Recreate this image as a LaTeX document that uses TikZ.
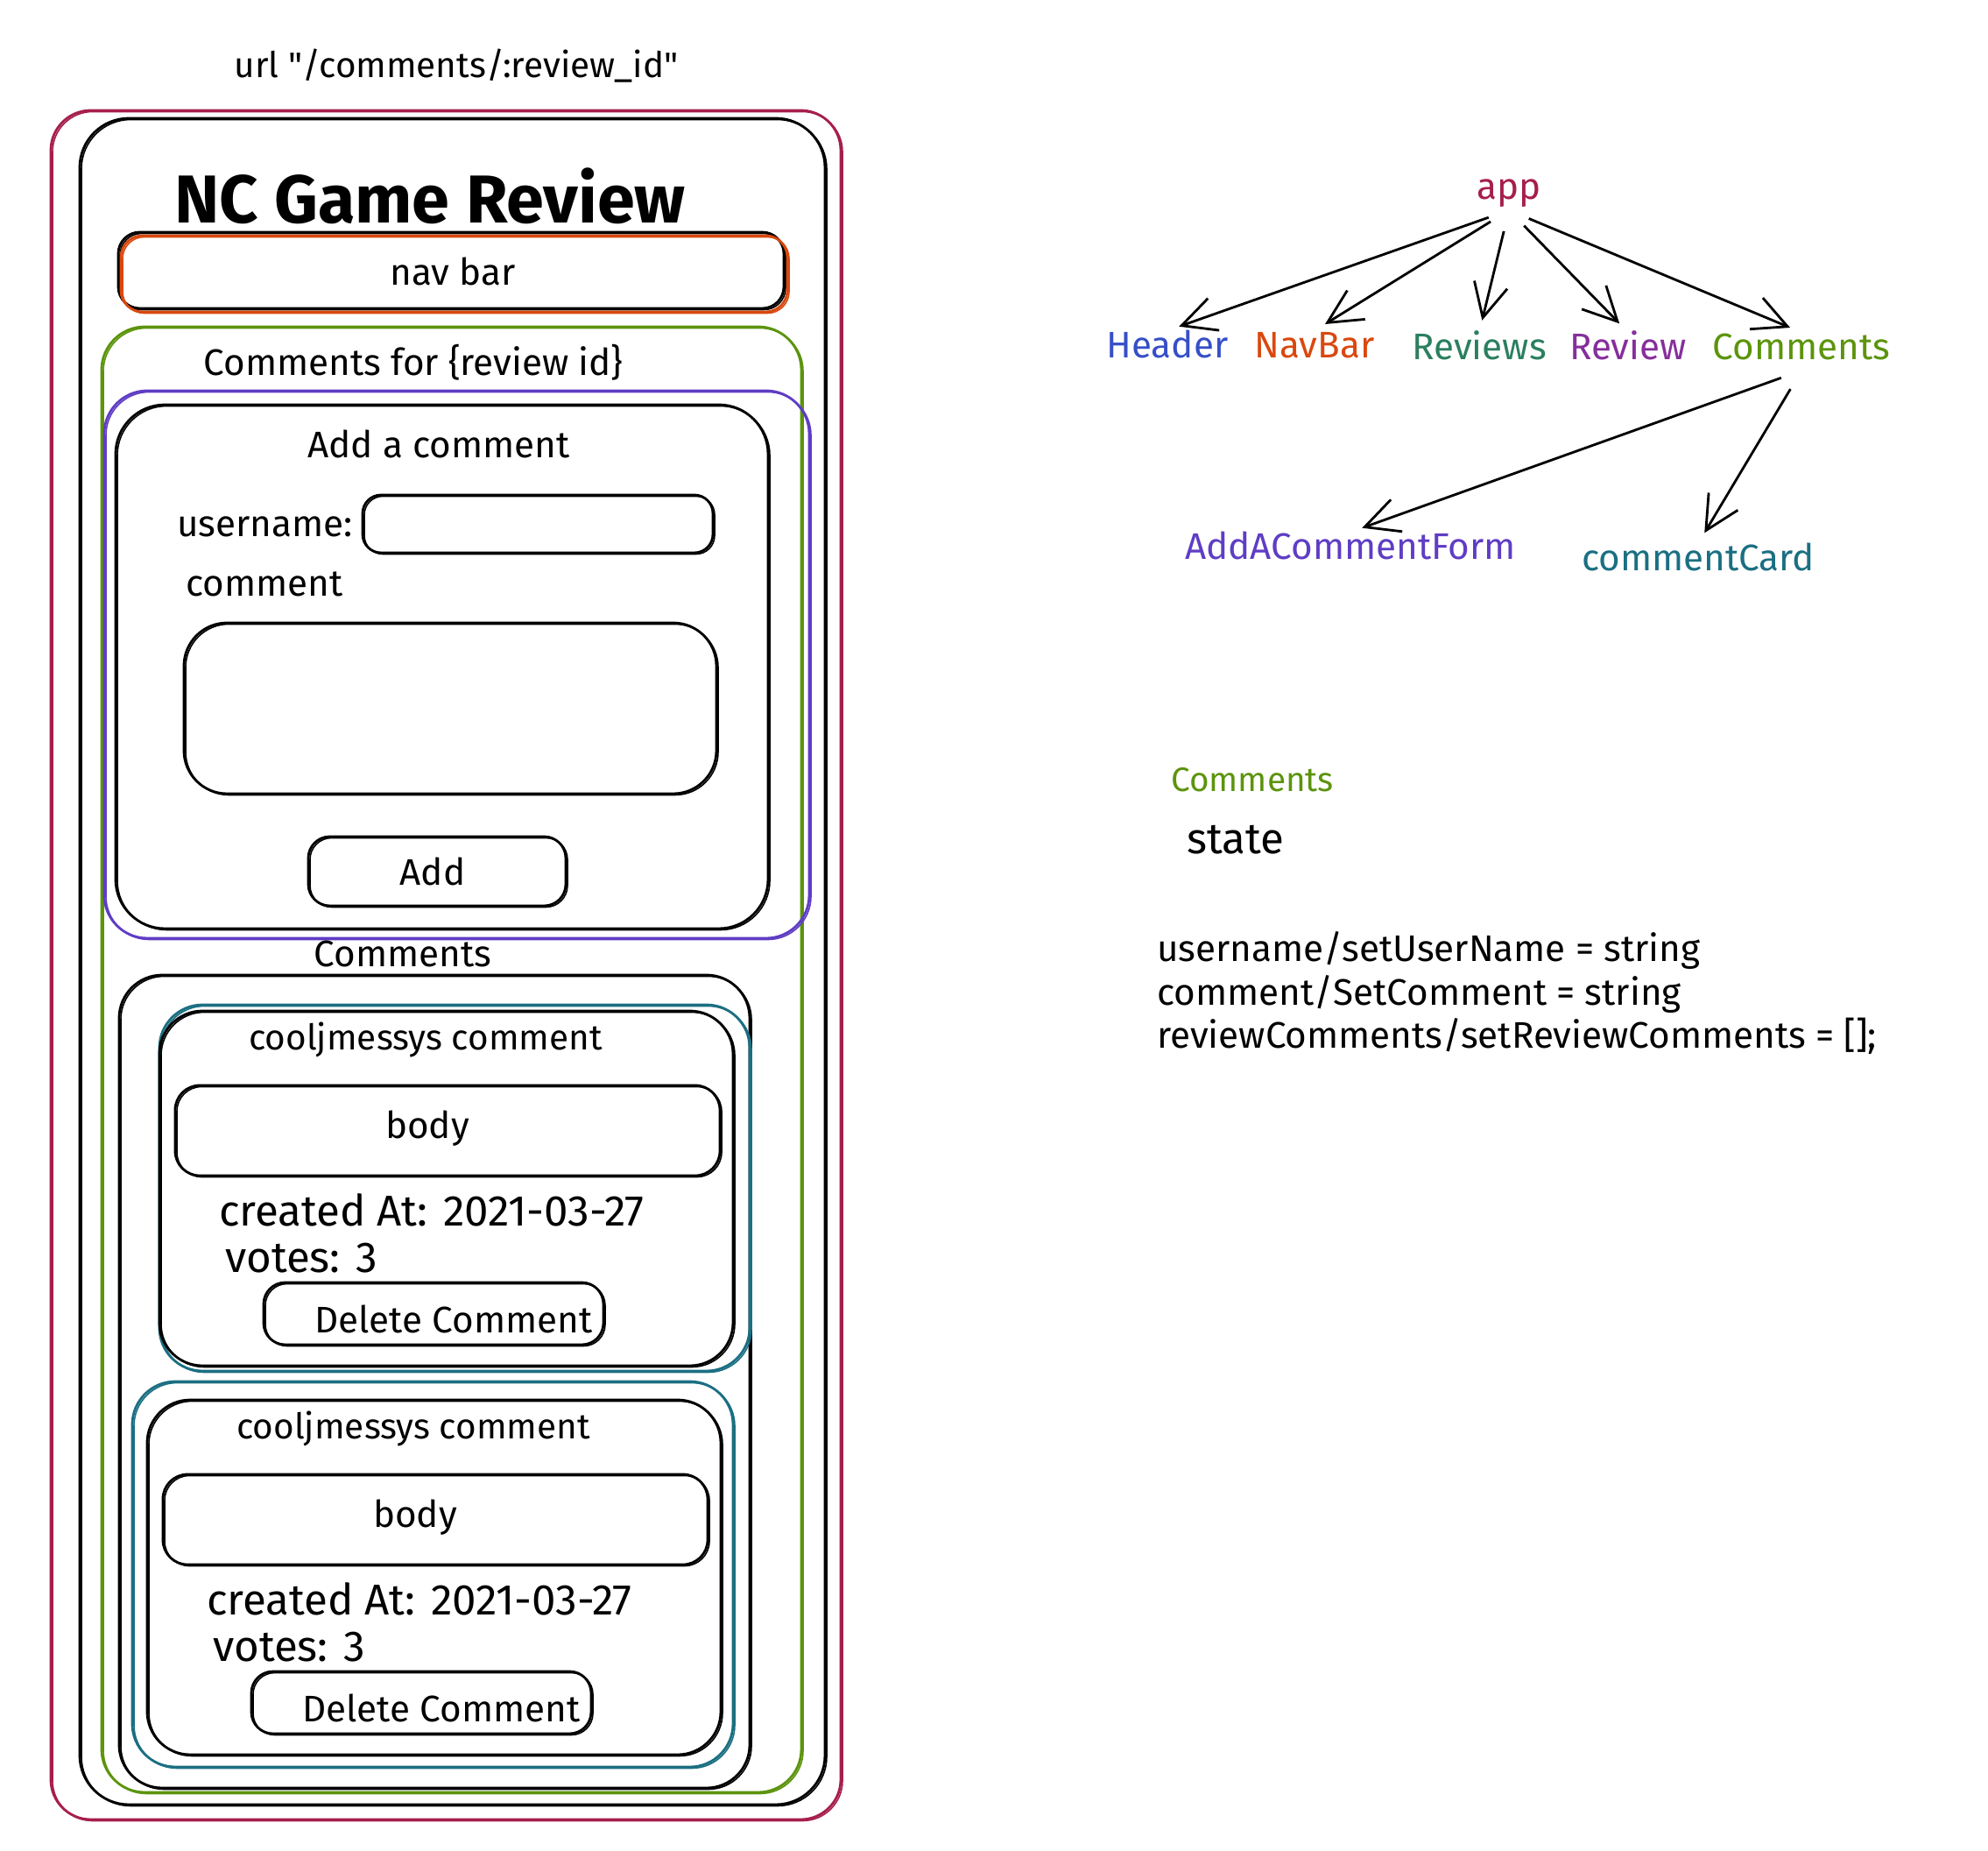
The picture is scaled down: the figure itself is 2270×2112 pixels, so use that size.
\documentclass[tikz,border=0pt]{standalone}
\usepackage{fontspec}
\setmainfont{Fira Sans}
\usetikzlibrary{arrows.meta,positioning}
\definecolor{crimson}{HTML}{A61E4D}
\definecolor{hdrblue}{HTML}{364FC7}
\definecolor{navorange}{HTML}{D9480F}
\definecolor{revsgreen}{HTML}{2B7F5E}
\definecolor{revpurple}{HTML}{862E9C}
\definecolor{comgreen}{HTML}{5C940D}
\definecolor{formviolet}{HTML}{5F3DC4}
\definecolor{cardteal}{HTML}{1B6F82}

\begin{document}
\begin{tikzpicture}[x=0.01cm, y=-0.01cm, line join=round,
  sketchbox/.style={draw=#1, line width=0.8pt, preaction={draw=#1, line width=0.45pt, transform canvas={shift={(2,1.5)}}}},
  sketchbox/.default=black,
  lbl/.style={font=\fontsize{12}{14}\selectfont, inner sep=1pt},
  biglbl/.style={font=\fontsize{14}{16}\selectfont, inner sep=1pt},
  arr/.style={-{Straight Barb[length=11pt,width=11pt]}, line width=0.8pt, shorten <=7pt, shorten >=4pt}]
\useasboundingbox (0,0) rectangle (2270,2112);

\node[font=\fontsize{11.5}{14}\selectfont] (url) at (521,75) {url \textquotedbl/comments/:review\_id\textquotedbl};
\draw[sketchbox=crimson, rounded corners=13pt] (58,126) rectangle (960,2077);
\draw[sketchbox, rounded corners=16pt] (91,135) rectangle (942,2060);
\node[font=\fontsize{22}{26}\selectfont\bfseries] (title) at (491,224) {NC Game Review};
\draw[sketchbox, rounded corners=7pt] (135,265) rectangle (895,352);
\draw[sketchbox=navorange, rounded corners=7pt] (138,269) rectangle (899,356);
\node[lbl] (nav) at (517,310) {nav bar};

\draw[sketchbox=comgreen, rounded corners=14pt] (116,373) rectangle (915,2046);
\node[lbl] (forreview) at (472,414) {Comments for \{review id\}};
\draw[sketchbox=formviolet, rounded corners=14pt] (119,446) rectangle (924,1071);
\draw[sketchbox, rounded corners=16pt] (132,462) rectangle (877,1060);
\node[lbl] (addtitle) at (501,507) {Add a comment};
\node[lbl, anchor=west] (username) at (198,601) {username:};
\draw[sketchbox, rounded corners=6pt] (414,565) rectangle (814,631);
\node[lbl, anchor=west] (comment) at (208,667) {comment};
\draw[sketchbox, rounded corners=14pt] (210,711) rectangle (818,906);
\draw[sketchbox, rounded corners=7pt] (352,955) rectangle (646,1034);
\node[lbl] (add) at (494,995) {Add};

\node[lbl] (listtitle) at (460,1089) {Comments};
\draw[sketchbox, rounded corners=14pt] (136,1113) rectangle (856,2041);
\draw[sketchbox=cardteal, rounded corners=14pt] (182,1147) rectangle (856,1565);
\draw[sketchbox=cardteal, rounded corners=14pt] (151,1577) rectangle (837,2017);
\foreach \dx/\dy/\n in {0/0/1,-14/444/2}{
  \begin{scope}[shift={(\dx,\dy)}]
    \draw[sketchbox, rounded corners=14pt] (182,1154) rectangle (837,1559);
    \node[lbl, font=\fontsize{11.5}{14}\selectfont] (card\n) at (486,1187) {cooljmessys comment};
    \draw[sketchbox, rounded corners=8pt] (200,1239) rectangle (822,1342);
    \node[lbl] (body\n) at (488,1288) {body};
    \node[biglbl, anchor=west] (created\n) at (246,1381) {created At: 2021-03-27};
    \node[biglbl, anchor=west] (votes\n) at (253,1436) {votes: 3};
    \draw[sketchbox, rounded corners=7pt] (301,1464) rectangle (689,1535);
    \node[biglbl, font=\fontsize{12}{14}\selectfont] (delete\n) at (518,1506) {Delete Comment};
  \end{scope}}

\begin{scope}[every node/.style={lbl, anchor=base, text height=0.75em, text depth=0.25em}]
\node[text=crimson] (app) at (1723,227) {app};
\node[text=hdrblue] (header) at (1333,408) {Header};
\node[text=navorange] (navbar) at (1501,408) {NavBar};
\node[text=revsgreen] (reviews) at (1689,410) {Reviews};
\node[text=revpurple] (review) at (1859,410) {Review};
\node[text=comgreen] (comments) at (2057,410) {Comments};
\node[text=formviolet] (addform) at (1542,638) {AddACommentForm};
\node[text=cardteal] (commentcard) at (1939,651) {commentCard};
\end{scope}
\foreach \c in {header,navbar,reviews,review,comments}
  \draw[arr] (app.south) -- (\c.north);
\foreach \c in {addform,commentcard}
  \draw[arr] (comments.south) -- (\c.north);

\node[lbl, font=\fontsize{11}{13}\selectfont, text=comgreen, anchor=base west] (statetitle) at (1333,903) {Comments};
\node[biglbl, anchor=base west] (state) at (1351,974) {state};
\node[lbl, anchor=base west] (line1) at (1317,1097) {username/setUserName = string};
\node[lbl, anchor=base west] (line2) at (1317,1147) {comment/SetComment = string};
\node[lbl, anchor=base west] (line3) at (1317,1196) {reviewComments/setReviewComments = [];};
\end{tikzpicture}
\end{document}
